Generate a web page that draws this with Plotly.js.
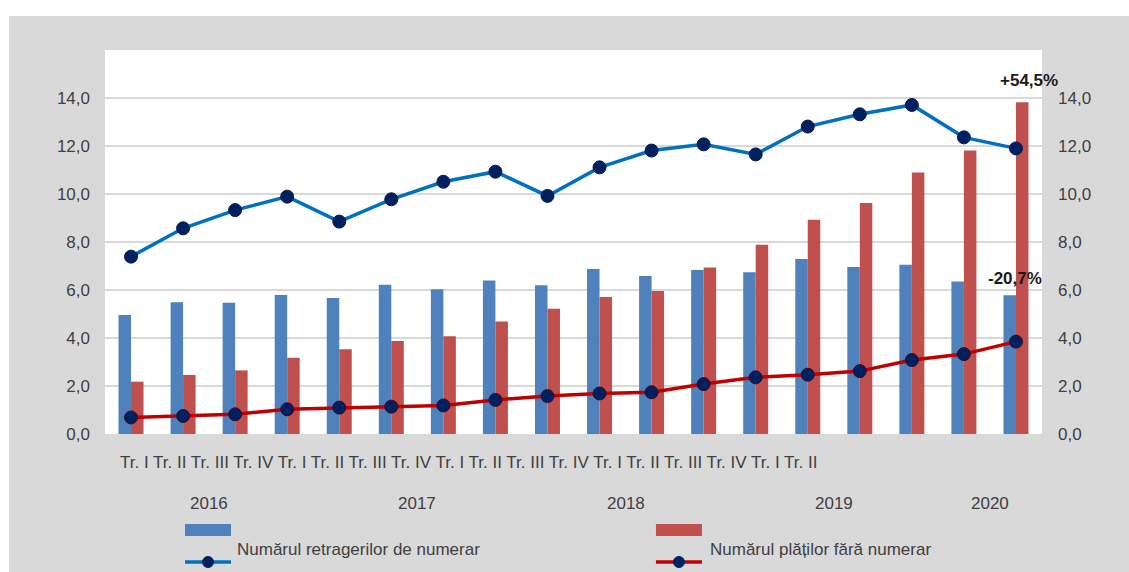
<!DOCTYPE html>
<html>
<head>
<meta charset="utf-8">
<script src="https://cdn.plot.ly/plotly-3.0.1.min.js"></script>
<style>
  html, body { margin: 0; padding: 0; background: #ffffff; }
  #chart { position: absolute; left: 9px; top: 16px; width: 1120px; height: 556px; }
</style>
</head>
<body>
<div id="chart"></div>
<script>
// ---- data ----
const quarterLabels = ["Tr. I","Tr. II","Tr. III","Tr. IV","Tr. I","Tr. II","Tr. III","Tr. IV","Tr. I","Tr. II","Tr. III","Tr. IV","Tr. I","Tr. II","Tr. III","Tr. IV","Tr. I","Tr. II"];
const years = ["2016","2017","2018","2019","2020"];
const withdrawalsBars = [4.96,5.49,5.47,5.79,5.67,6.22,6.03,6.40,6.20,6.87,6.58,6.83,6.74,7.29,6.96,7.05,6.35,5.78];
const paymentsBars    = [2.18,2.46,2.65,3.18,3.53,3.88,4.07,4.69,5.22,5.71,5.96,6.94,7.89,8.93,9.63,10.90,11.81,13.82];
const withdrawalsLine = [7.39,8.57,9.33,9.89,8.85,9.78,10.51,10.93,9.92,11.11,11.81,12.07,11.65,12.81,13.32,13.71,12.36,11.90];
const paymentsLine    = [0.69,0.75,0.82,1.03,1.10,1.14,1.19,1.42,1.58,1.69,1.74,2.08,2.36,2.47,2.62,3.08,3.33,3.85];
const yTicks = [0,2,4,6,8,10,12,14];
const changeLabels = ["+54,5%","-20,7%"];
const seriesNames = ["Numărul retragerilor de numerar","Numărul plăților fără numerar"];

// ---- styles ----
const FONT = "Liberation Sans, Arial, sans-serif";
const FS = 17;
const TXT = "#404040";
const BLUE_BAR = "#4f81bd", RED_BAR = "#c0504d";
const BLUE_LINE = "#0070c0", RED_LINE = "#c00000", MARK = "#002060";

const xs = quarterLabels.map((_, i) => i);
const tickText = yTicks.map(v => v.toFixed(1).replace('.', ','));

const traces = [
  {type:'bar', x: xs, y: withdrawalsBars, name: seriesNames[0], marker:{color: BLUE_BAR}, showlegend:false, hoverinfo:'y'},
  {type:'bar', x: xs, y: paymentsBars, name: seriesNames[1], marker:{color: RED_BAR}, showlegend:false, hoverinfo:'y'},
  {type:'scatter', mode:'lines+markers', x: xs, y: withdrawalsLine, yaxis:'y2', name: seriesNames[0],
   line:{color: BLUE_LINE, width:3.5}, marker:{color: MARK, size:13, line:{color:'#0a1a50', width:1}}, showlegend:false},
  {type:'scatter', mode:'lines+markers', x: xs, y: paymentsLine, yaxis:'y2', name: seriesNames[1],
   line:{color: RED_LINE, width:3.5}, marker:{color: MARK, size:13, line:{color:'#3a0a20', width:1}}, showlegend:false}
];

// year labels centred under their quarters
const yearAnns = years.map((yr, k) => {
  const idx = xs.filter(i => Math.floor(i / 4) === k);
  const c = idx.reduce((a, b) => a + b, 0) / idx.length;
  return {x: c, xref:'x', y: -0.18, yref:'paper', text: yr, showarrow:false,
          font:{family: FONT, size: FS, color: TXT}, xanchor:'center', yanchor:'middle'};
});

const n = xs.length - 1;
const annotations = [
  {x: 0.0139, xref:'paper', y: -0.073, yref:'paper', text: quarterLabels.join(' '), showarrow:false,
   xanchor:'left', yanchor:'middle', font:{family: FONT, size: FS, color: TXT}},
  ...yearAnns,
  {x: n + 0.25, xref:'x', y: 14.75, yref:'y', text: '<b>' + changeLabels[0] + '</b>', showarrow:false,
   font:{family: FONT, size: FS, color:'#1a1a1a'}, xanchor:'center', yanchor:'middle'},
  {x: n - 0.02, xref:'x', y: 6.5, yref:'y', text: '<b>' + changeLabels[1] + '</b>', showarrow:false,
   font:{family: FONT, size: FS, color:'#1a1a1a'}, xanchor:'center', yanchor:'middle'},
  {x: 0.1387, xref:'paper', y: -0.302, yref:'paper', text: seriesNames[0], showarrow:false,
   xanchor:'left', yanchor:'middle', font:{family: FONT, size: FS, color: TXT}},
  {x: 0.6436, xref:'paper', y: -0.302, yref:'paper', text: seriesNames[1], showarrow:false,
   xanchor:'left', yanchor:'middle', font:{family: FONT, size: FS, color: TXT}}
];

// hand-drawn legend keys
function legendKey(x0, x1, barColor, lineColor) {
  const xm = (x0 + x1) / 2;
  return [
    {type:'rect', xref:'paper', yref:'paper', x0: x0, x1: x1, y0: -0.2656, y1: -0.2344, fillcolor: barColor, line:{width:0}},
    {type:'line', xref:'paper', yref:'paper', x0: x0, x1: x1, y0: -0.3333, y1: -0.3333, line:{color: lineColor, width:3.5}},
    {type:'circle', xref:'paper', yref:'paper', xsizemode:'pixel', ysizemode:'pixel', xanchor: xm, yanchor: -0.3333,
     x0:-5.5, x1:5.5, y0:-5.5, y1:5.5, fillcolor: MARK, line:{color: MARK, width:1}}
  ];
}
const shapes = [...legendKey(0.0854, 0.1345, BLUE_BAR, BLUE_LINE), ...legendKey(0.588, 0.6371, RED_BAR, RED_LINE)];

const layout = {
  width: 1120, height: 556,
  paper_bgcolor: '#d9d9d9', plot_bgcolor: '#ffffff',
  margin: {l:96, r:87, t:34, b:138, pad:0},
  barmode: 'group', bargap: 0.52, bargroupgap: 0,
  showlegend: false,
  font: {family: FONT, color: TXT, size: FS},
  xaxis: {range:[-0.5, n + 0.5], showticklabels:false, showgrid:false, zeroline:false, showline:false, ticks:'', fixedrange:true},
  yaxis: {range:[0,16], tickvals: yTicks, ticktext: tickText, showgrid:true, gridcolor:'#d9d9d9', gridwidth:1.5,
          zeroline:false, showline:false, ticks:'', ticklabelstandoff: 14, tickfont:{family: FONT, size: FS, color: TXT}},
  yaxis2: {range:[0,16], overlaying:'y', side:'right', tickvals: yTicks, ticktext: tickText, showgrid:false,
           zeroline:false, showline:false, ticks:'', ticklabelstandoff: 15, tickfont:{family: FONT, size: FS, color: TXT}},
  annotations: annotations,
  shapes: shapes
};

Plotly.newPlot('chart', traces, layout, {displayModeBar:false, staticPlot:true});
</script>
</body>
</html>
